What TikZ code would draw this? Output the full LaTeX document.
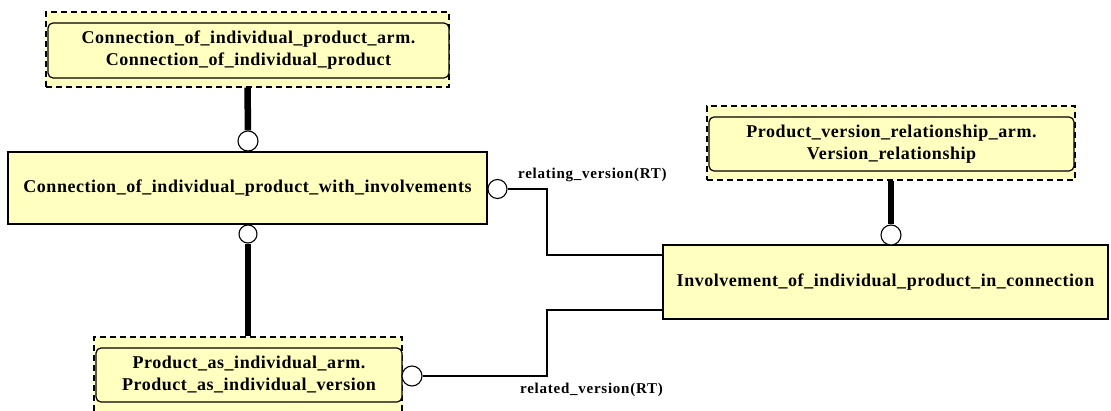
\documentclass[tikz,border=0pt]{standalone}
\usepackage{fontspec}
\setmainfont{Liberation Serif}
\newfontfamily\spacedfont[LetterSpace=3]{Liberation Serif}
\newfontfamily\labelfont[LetterSpace=5]{Liberation Serif}
\definecolor{boxfill}{RGB}{255,255,192}
\tikzset{
  every node/.style={font=\spacedfont\bfseries\fontsize{18}{22}\selectfont, align=center, inner sep=0pt},
  outerbox/.style={draw, dashed, dash pattern=on 6pt off 4pt, line width=1.2pt, fill=boxfill, rectangle},
  innerbox/.style={draw, line width=1.2pt, fill=boxfill, rounded corners=5pt, rectangle},
  plainbox/.style={draw, line width=1.2pt, fill=boxfill, rectangle},
  ring/.style={draw, circle, line width=1.1pt, fill=white, minimum size=19pt},
  thick link/.style={line width=6.5pt},
  thin link/.style={line width=1.3pt},
  rolelabel/.style={font=\labelfont\bfseries\fontsize{15}{18}\selectfont}
}
\begin{document}
\begin{tikzpicture}[x=1pt,y=-1pt]
\useasboundingbox (0,0) rectangle (1111,410);
% top box
\node[outerbox, minimum width=403pt, minimum height=75pt] (topo) at (247.5,49.5) {};
\node[innerbox, minimum width=401pt, minimum height=55pt] (topi) at (248.5,50.5)
  {Connection\_of\_individual\_product\_arm.\\Connection\_of\_individual\_product};
% connection box
\node[plainbox, minimum width=479pt, minimum height=72pt] (conn) at (247.5,188)
  {Connection\_of\_individual\_product\_with\_involvements};
% bottom box
\node[outerbox, minimum width=308pt, minimum height=76pt] (boto) at (248,375) {};
\node[innerbox, minimum width=306pt, minimum height=54pt] (boti) at (249,375)
  {Product\_as\_individual\_arm.\\Product\_as\_individual\_version};
% product version relationship box
\node[outerbox, minimum width=368pt, minimum height=74pt] (pvo) at (891,143) {};
\node[innerbox, minimum width=365pt, minimum height=54pt] (pvi) at (891.5,144)
  {Product\_version\_relationship\_arm.\\Version\_relationship};
% involvement box
\node[plainbox, minimum width=445pt, minimum height=74pt] (inv) at (885.5,282)
  {Involvement\_of\_individual\_product\_in\_connection};
% rings
\node[ring, minimum size=20pt] (r1) at (248,141) {};
\node[ring, minimum size=18pt] (r2) at (248,234) {};
\node[ring] (r3) at (497.5,189) {};
\node[ring, minimum size=20pt] (r4) at (412,376) {};
\node[ring, minimum size=20pt] (r5) at (891,235) {};
% thick links
\draw[thick link] (topo.south) -- (r1.north);
\draw[thick link] (r2.south) -- (boto.north);
\draw[thick link] (pvo.south) -- (r5.north);
% thin links
\coordinate (c1) at (547,189);
\coordinate (c2) at (547,255);
\coordinate (c3) at (547,376);
\coordinate (c4) at (547,310);
\draw[thin link] (r3.east) -- (c1) -- (c2) -- (c2 -| inv.west);
\draw[thin link] (r4.east) -- (c3) -- (c4) -- (c4 -| inv.west);
% labels
\node[rolelabel, anchor=west] (l1) at (518,175) {relating\_version(RT)};
\node[rolelabel, anchor=west] (l2) at (520,390) {related\_version(RT)};
\end{tikzpicture}
\end{document}
